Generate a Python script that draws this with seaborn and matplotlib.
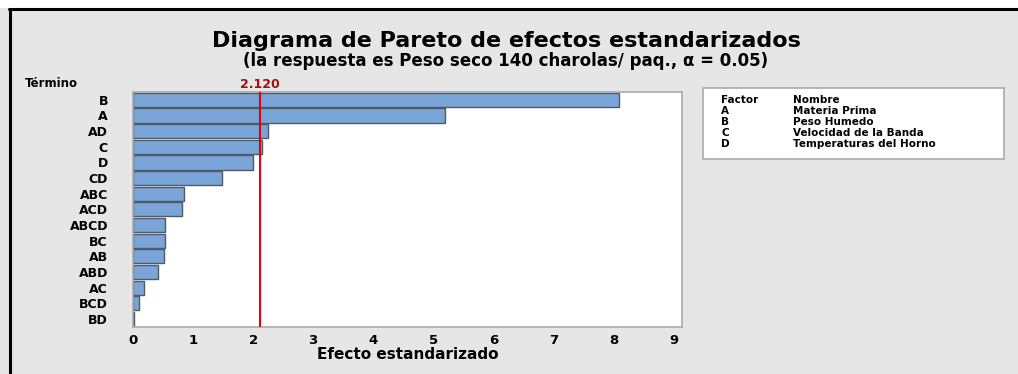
import matplotlib
matplotlib.use('Agg')
import matplotlib.pyplot as plt
import seaborn as sns
import pandas as pd
from matplotlib.lines import Line2D
from matplotlib.patches import Rectangle

terminos = ['B', 'A', 'AD', 'C', 'D', 'CD', 'ABC', 'ACD', 'ABCD', 'BC', 'AB', 'ABD', 'AC', 'BCD', 'BD']
efectos = [8.09, 5.19, 2.25, 2.15, 2.00, 1.49, 0.85, 0.81, 0.54, 0.53, 0.51, 0.41, 0.18, 0.10, 0.02]
critico = 2.12
factores = ['A', 'B', 'C', 'D']
nombres = ['Materia Prima', 'Peso Humedo', 'Velocidad de la Banda', 'Temperaturas del Horno']

df = pd.DataFrame({'Termino': terminos, 'Efecto': efectos})

sns.set_style('white')
plt.rcParams['font.family'] = ['DejaVu Sans']
plt.rcParams['text.color'] = 'black'
plt.rcParams['axes.labelcolor'] = 'black'
plt.rcParams['xtick.color'] = '#999999'
plt.rcParams['ytick.color'] = '#999999'
plt.rcParams['xtick.labelcolor'] = 'black'
plt.rcParams['ytick.labelcolor'] = 'black'

fig = plt.figure(figsize=(10.18, 3.74), dpi=100)
fig.patch.set_facecolor('#e6e6e6')
ax = fig.add_axes([0.1306, 0.126, 0.5394, 0.628])
ax.set_facecolor('white')

sns.barplot(data=df, y='Termino', x='Efecto', orient='h', color='#7aa5d8',
            saturation=1, width=0.9, edgecolor='#505a66', linewidth=1, ax=ax)

ax.axvline(critico, color='#e0000f', lw=1.5, zorder=5)
ax.set_xlim(0, 9.14)
ax.set_xticks(range(10))
ax.tick_params(axis='both', which='both', length=4, width=1)
ax.tick_params(axis='x', labelsize=9.5, pad=1)
ax.tick_params(axis='y', labelsize=9, pad=14)
for lbl in ax.get_xticklabels() + ax.get_yticklabels():
    lbl.set_fontweight('bold')
for s in ax.spines.values():
    s.set_color('#aaaaaa')
    s.set_linewidth(1.2)
ax.set_ylabel('')
ax.set_xlabel('Efecto estandarizado', fontsize=11, fontweight='bold', labelpad=0)

ax.text(critico, 1.005, '2.120', transform=ax.get_xaxis_transform(), color='#a01010',
        fontsize=9, fontweight='bold', ha='center', va='bottom')
ax.text(-0.197, 1.01, 'Término', transform=ax.transAxes, fontsize=8.5, fontweight='bold',
        ha='left', va='bottom')

fig.text(0.497, 1 - 41 / 374, 'Diagrama de Pareto de efectos estandarizados', fontsize=16,
         fontweight='bold', ha='center', va='center')
fig.text(0.497, 1 - 61 / 374, '(la respuesta es Peso seco 140 charolas/ paq., \u03b1 = 0.05)',
         fontsize=12, fontweight='bold', ha='center', va='center')

# cuadro de factores
fig.patches.append(Rectangle((703 / 1018, 1 - 159 / 374), 301 / 1018, 71 / 374,
                             transform=fig.transFigure, facecolor='white',
                             edgecolor='#aaaaaa', lw=1.2))
filas = [('Factor', 'Nombre')] + list(zip(factores, nombres))
for i, (f, n) in enumerate(filas):
    y = 1 - (100 + i * 11) / 374
    fig.text(721 / 1018, y, f, fontsize=7.5, fontweight='bold', va='center')
    fig.text(793 / 1018, y, n, fontsize=7.5, fontweight='bold', va='center')

# borde de la imagen
fig.patches.append(Rectangle((0, 1 - 8 / 374), 1, 8 / 374, transform=fig.transFigure,
                             facecolor='white', edgecolor='none'))
fig.add_artist(Line2D([9 / 1018, 1], [1 - 9 / 374, 1 - 9 / 374], color='black', lw=2.2))
fig.add_artist(Line2D([10 / 1018, 10 / 1018], [0, 1 - 9 / 374], color='black', lw=2.2))

fig.savefig('out.png', dpi=100, facecolor=fig.get_facecolor())
